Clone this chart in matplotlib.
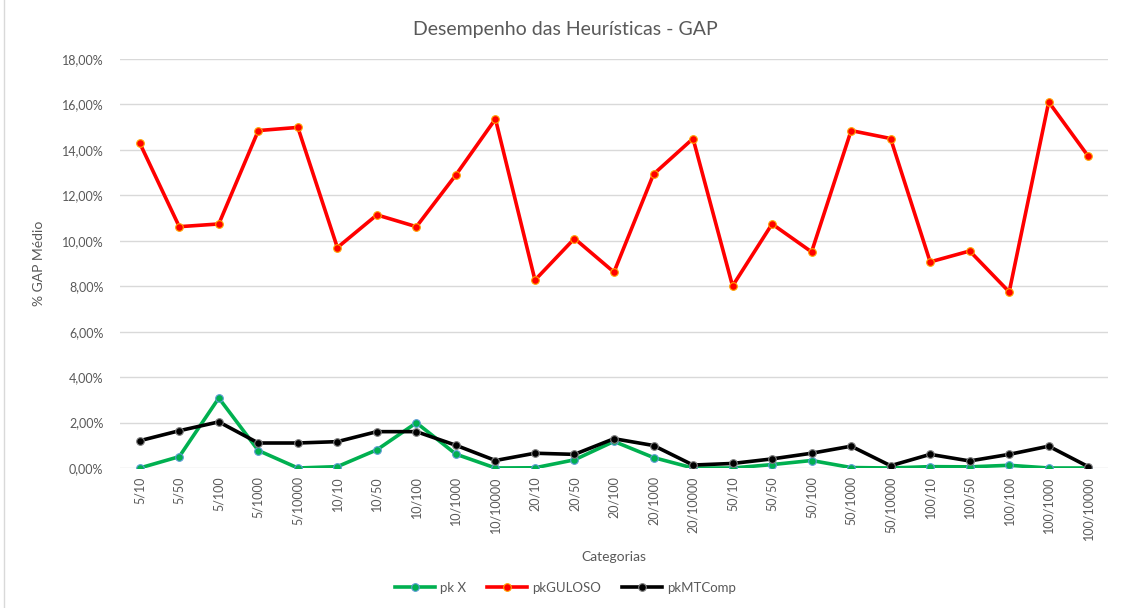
import matplotlib.pyplot as plt
from matplotlib.ticker import FuncFormatter
from matplotlib.lines import Line2D

categorias = ["5/10", "5/50", "5/100", "5/1000", "5/10000",
              "10/10", "10/50", "10/100", "10/1000", "10/10000",
              "20/10", "20/50", "20/100", "20/1000", "20/10000",
              "50/10", "50/50", "50/100", "50/1000", "50/10000",
              "100/10", "100/50", "100/100", "100/1000", "100/10000"]

# % GAP medio por heuristica
pk_x = [0.00, 0.50, 3.08, 0.77, 0.00,
        0.06, 0.80, 1.99, 0.61, 0.00,
        0.01, 0.36, 1.17, 0.46, 0.00,
        0.00, 0.15, 0.33, 0.02, 0.00,
        0.06, 0.05, 0.12, 0.00, 0.00]
pk_guloso = [14.30, 10.62, 10.74, 14.85, 14.99,
             9.70, 11.14, 10.62, 12.90, 15.36,
             8.27, 10.10, 8.62, 12.93, 14.50,
             8.01, 10.74, 9.51, 14.85, 14.50,
             9.07, 9.55, 7.75, 16.11, 13.72]
pk_mtcomp = [1.20, 1.64, 2.03, 1.10, 1.10,
             1.16, 1.60, 1.60, 1.00, 0.33,
             0.65, 0.60, 1.29, 0.99, 0.13,
             0.20, 0.40, 0.65, 0.96, 0.10,
             0.60, 0.31, 0.60, 0.96, 0.06]

plt.rcParams['font.family'] = ['Lato', 'DejaVu Sans']
cinza = '#595959'

fig = plt.figure(figsize=(11.24, 6.08), dpi=100)
ax = fig.add_axes([120 / 1124, 1 - 468 / 608, (1108 - 120) / 1124, (468 - 59) / 608])

x = range(len(categorias))
ax.plot(x, [v / 100 for v in pk_x], color='#00b050', lw=2.6, marker='o', ms=5.5,
        mfc='#00b050', mec='#5b9bd5', mew=0.8, label='pk X', zorder=3)
ax.plot(x, [v / 100 for v in pk_guloso], color='#ff0000', lw=2.6, marker='o', ms=5.5,
        mfc='#ff0000', mec='#ffa500', mew=0.8, label='pkGULOSO', zorder=3)
ax.plot(x, [v / 100 for v in pk_mtcomp], color='#000000', lw=2.6, marker='o', ms=5.5,
        mfc='#000000', mec='#7f7f7f', mew=0.8, label='pkMTComp', zorder=4)

ax.set_xlim(-0.5, len(categorias) - 0.5)
ax.set_ylim(0, 0.18)
ax.set_yticks([i / 100 for i in range(0, 19, 2)])
ax.yaxis.set_major_formatter(FuncFormatter(lambda v, p: f"{v * 100:.2f}%".replace('.', ',')))
ax.set_xticks(list(x))
ax.set_xticklabels(categorias, rotation=90, fontsize=9, color=cinza)
ax.tick_params(axis='y', labelsize=9, labelcolor=cinza, length=0, pad=12)
ax.tick_params(axis='x', length=0, pad=6)

ax.grid(axis='y', color='#d9d9d9', lw=1)
ax.set_axisbelow(True)
for s in ax.spines.values():
    s.set_visible(False)

ax.set_ylabel('% GAP Médio', fontsize=10, color=cinza, labelpad=12)
ax.set_xlabel('Categorias', fontsize=10, color=cinza, labelpad=8)
fig.text(0.503, 1 - 30 / 608, 'Desempenho das Heurísticas - GAP', ha='center', va='center',
         fontsize=14, color=cinza)

ax.legend(loc='center', bbox_to_anchor=(0.503, 1 - 588 / 608), bbox_transform=fig.transFigure,
          ncol=3, frameon=False, fontsize=9.5, labelcolor=cinza, handlelength=3.0,
          columnspacing=1.6, handletextpad=0.4)

# borda esquerda do grafico
fig.add_artist(Line2D([4 / 1124, 4 / 1124], [0, 1], color='#d9d9d9', lw=1))

fig.savefig('out.png', dpi=100)
